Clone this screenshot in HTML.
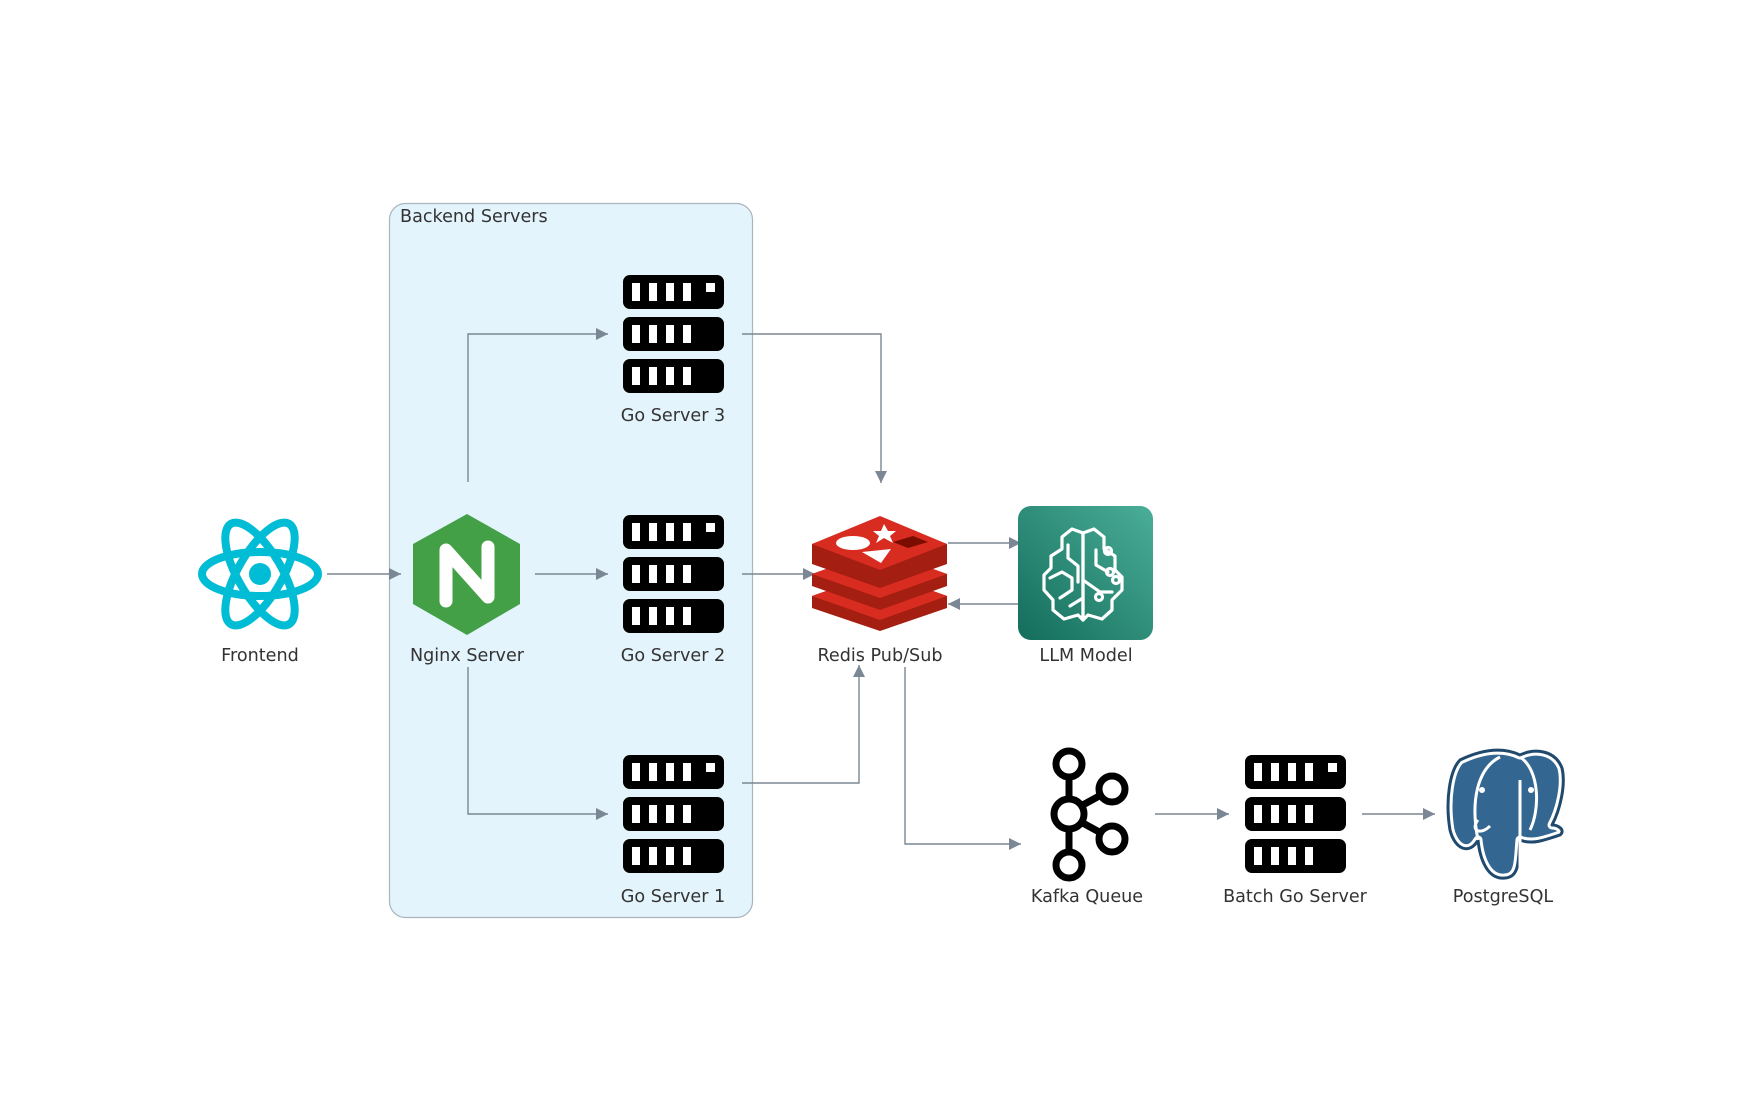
<!DOCTYPE html>
<html><head><meta charset="utf-8"><style>
html,body{margin:0;padding:0;background:#fff;}
svg{display:block;}
text{font-family:"DejaVu Sans","Liberation Sans",sans-serif;font-size:17.6px;fill:#333;}
</style></head><body>
<svg width="1759" height="1119" viewBox="0 0 1759 1119" xmlns="http://www.w3.org/2000/svg">
<defs>
<marker id="ah" viewBox="0 0 10 10" refX="10" refY="5" markerWidth="12" markerHeight="12" markerUnits="userSpaceOnUse" orient="auto">
<path d="M0,0 L10,5 L0,10 z" fill="#7b8794"/></marker>
<linearGradient id="lg" x1="0" y1="1" x2="1" y2="0">
<stop offset="0" stop-color="#136d5b"/><stop offset="1" stop-color="#4aae98"/></linearGradient>
<g id="srv">
<rect x="0" y="0" width="101" height="34" rx="7" fill="#000"/>
<rect x="0" y="42" width="101" height="34" rx="7" fill="#000"/>
<rect x="0" y="84" width="101" height="34" rx="7" fill="#000"/>
<g fill="#fff">
<rect x="9" y="8" width="8" height="18"/><rect x="26" y="8" width="8" height="18"/><rect x="43" y="8" width="8" height="18"/><rect x="60" y="8" width="8" height="18"/><rect x="83" y="8" width="9" height="9"/>
<rect x="9" y="50" width="8" height="18"/><rect x="26" y="50" width="8" height="18"/><rect x="43" y="50" width="8" height="18"/><rect x="60" y="50" width="8" height="18"/>
<rect x="9" y="92" width="8" height="18"/><rect x="26" y="92" width="8" height="18"/><rect x="43" y="92" width="8" height="18"/><rect x="60" y="92" width="8" height="18"/>
</g></g>
</defs>

<rect x="389.5" y="203.5" width="363" height="714" rx="16" fill="#e3f4fc" stroke="#a9b4bd" stroke-width="1.2"/>
<text x="400" y="222">Backend Servers</text>

<g fill="none" stroke="#7b8794" stroke-width="1.4">
<path d="M327,574 H401" marker-end="url(#ah)"/>
<path d="M535,574 H608" marker-end="url(#ah)"/>
<path d="M468,482 V334 H608" marker-end="url(#ah)"/>
<path d="M468,667 V814 H608" marker-end="url(#ah)"/>
<path d="M742,334 H881 V483" marker-end="url(#ah)"/>
<path d="M742,574 H815" marker-end="url(#ah)"/>
<path d="M742,783 H859 V665" marker-end="url(#ah)"/>
<path d="M948,543 H1021" marker-end="url(#ah)"/>
<path d="M1021,604 H948" marker-end="url(#ah)"/>
<path d="M905,667 V844 H1021" marker-end="url(#ah)"/>
<path d="M1155,814 H1229" marker-end="url(#ah)"/>
<path d="M1362,814 H1435" marker-end="url(#ah)"/>
</g>

<!-- React -->
<g transform="translate(260,574)" fill="none" stroke="#00bcd4" stroke-width="8">
<ellipse rx="58" ry="22"/>
<ellipse rx="58" ry="22" transform="rotate(60)"/>
<ellipse rx="58" ry="22" transform="rotate(120)"/>
<circle r="11" fill="#00bcd4" stroke="none"/>
</g>
<text x="260" y="661" text-anchor="middle">Frontend</text>

<!-- Nginx -->
<polygon points="467,514 520,544 520,604 467,635 413,604 413,544" fill="#43a047"/>
<path d="M446,601 V550 L488,597 V547" fill="none" stroke="#fff" stroke-width="13" stroke-linecap="round" stroke-linejoin="round"/>
<text x="467" y="661" text-anchor="middle">Nginx Server</text>

<!-- servers -->
<use href="#srv" x="623" y="275"/>
<text x="673" y="421" text-anchor="middle">Go Server 3</text>
<use href="#srv" x="623" y="515"/>
<text x="673" y="661" text-anchor="middle">Go Server 2</text>
<use href="#srv" x="623" y="755"/>
<text x="673" y="902" text-anchor="middle">Go Server 1</text>

<!-- Redis -->
<g>
<path d="M812,596 L880,572 L947,596 V608 L880,631 L812,608 Z" fill="#a41e11"/>
<path d="M812,596 L880,572 L947,596 L880,620 Z" fill="#d82c20"/>
<path d="M812,574 L880,550 L947,574 V586 L880,610 L812,586 Z" fill="#a41e11"/>
<path d="M812,574 L880,550 L947,574 L880,598 Z" fill="#d82c20"/>
<path d="M812,544 L880,520 L947,544 V564 L880,588 L812,564 Z" fill="#a41e11"/>
<path d="M812,544 L880,516 L947,544 L880,570 Z" fill="#d82c20"/>
<ellipse cx="853" cy="543" rx="17" ry="7" fill="#fff"/>
<polygon points="862,552 891,549 881,563" fill="#fff"/>
<polygon points="884,524 888,531 896,531 890,536 893,543 884,538 876,543 879,536 873,531 881,531" fill="#fff"/>
<polygon points="893,542 913,536 928,542 908,548" fill="#7a0c00"/>
</g>
<text x="880" y="661" text-anchor="middle">Redis Pub/Sub</text>

<!-- LLM -->
<rect x="1018" y="506" width="135" height="134" rx="13" fill="url(#lg)"/>
<g fill="none" stroke="#fff" stroke-width="3.2" stroke-linejoin="round" stroke-linecap="round">
<path d="M1083,533 L1072,529 L1062,537 V549 L1051,556 V568 L1044,575 V590 L1053,600 V610 L1064,619 L1078,615 L1083,620 Z"/>
<path d="M1083,533 L1094,529 L1104,537 V549 L1115,556 V570 L1122,577 V590 L1112,600 V610 L1102,619 L1088,615 L1083,620"/>
<path d="M1083,533 V620"/>
<path d="M1068,545 V558 L1078,566 V582"/>
<path d="M1050,578 L1062,572 L1072,578 V590 L1060,598"/>
<path d="M1083,598 L1070,606"/>
<path d="M1096,550 V565 L1108,572"/>
<path d="M1083,580 L1100,592 L1112,592"/>
<circle cx="1108" cy="551" r="3.5"/><circle cx="1110" cy="572" r="3.5"/><circle cx="1116" cy="580" r="3.5"/><circle cx="1099" cy="597" r="3.5"/>
</g>
<text x="1086" y="661" text-anchor="middle">LLM Model</text>

<!-- Kafka -->
<g fill="none" stroke="#000" stroke-width="7">
<circle cx="1069" cy="764" r="13"/>
<circle cx="1069" cy="814" r="15"/>
<circle cx="1069" cy="865" r="13"/>
<circle cx="1112" cy="789" r="13"/>
<circle cx="1112" cy="839" r="13"/>
<path d="M1069,777 V799 M1069,829 V852 M1081,806 L1101,795 M1081,822 L1101,833"/>
</g>
<text x="1087" y="902" text-anchor="middle">Kafka Queue</text>

<use href="#srv" x="1245" y="755"/>
<text x="1295" y="902" text-anchor="middle">Batch Go Server</text>

<!-- Postgres -->
<g>
<path d="M1460,760 C1450,770 1445,800 1450,830 C1455,850 1470,855 1478,840 C1480,860 1488,880 1505,878 C1520,877 1518,860 1520,840 C1532,845 1545,840 1560,835 C1566,830 1558,825 1552,825 C1560,810 1566,785 1562,768 C1555,750 1535,748 1520,755 C1505,748 1485,748 1460,760 Z" fill="#336791" stroke="#fff" stroke-width="9" stroke-linejoin="round"/>
<path d="M1460,760 C1450,770 1445,800 1450,830 C1455,850 1470,855 1478,840 C1480,860 1488,880 1505,878 C1520,877 1518,860 1520,840 C1532,845 1545,840 1560,835 C1566,830 1558,825 1552,825 C1560,810 1566,785 1562,768 C1555,750 1535,748 1520,755 C1505,748 1485,748 1460,760 Z" fill="none" stroke="#1f4a6e" stroke-width="3" stroke-linejoin="round"/>
<g fill="none" stroke="#fff" stroke-width="3">
<path d="M1500,757 C1478,768 1470,800 1478,840"/>
<path d="M1520,757 C1540,770 1540,810 1530,830"/>
<path d="M1520,780 V870"/>
<path d="M1478,820 C1470,830 1480,836 1490,826"/>
</g>
<circle cx="1482" cy="790" r="3" fill="#fff"/><circle cx="1531" cy="790" r="3" fill="#fff"/>
</g>
<text x="1503" y="902" text-anchor="middle">PostgreSQL</text>
</svg>
</body></html>
